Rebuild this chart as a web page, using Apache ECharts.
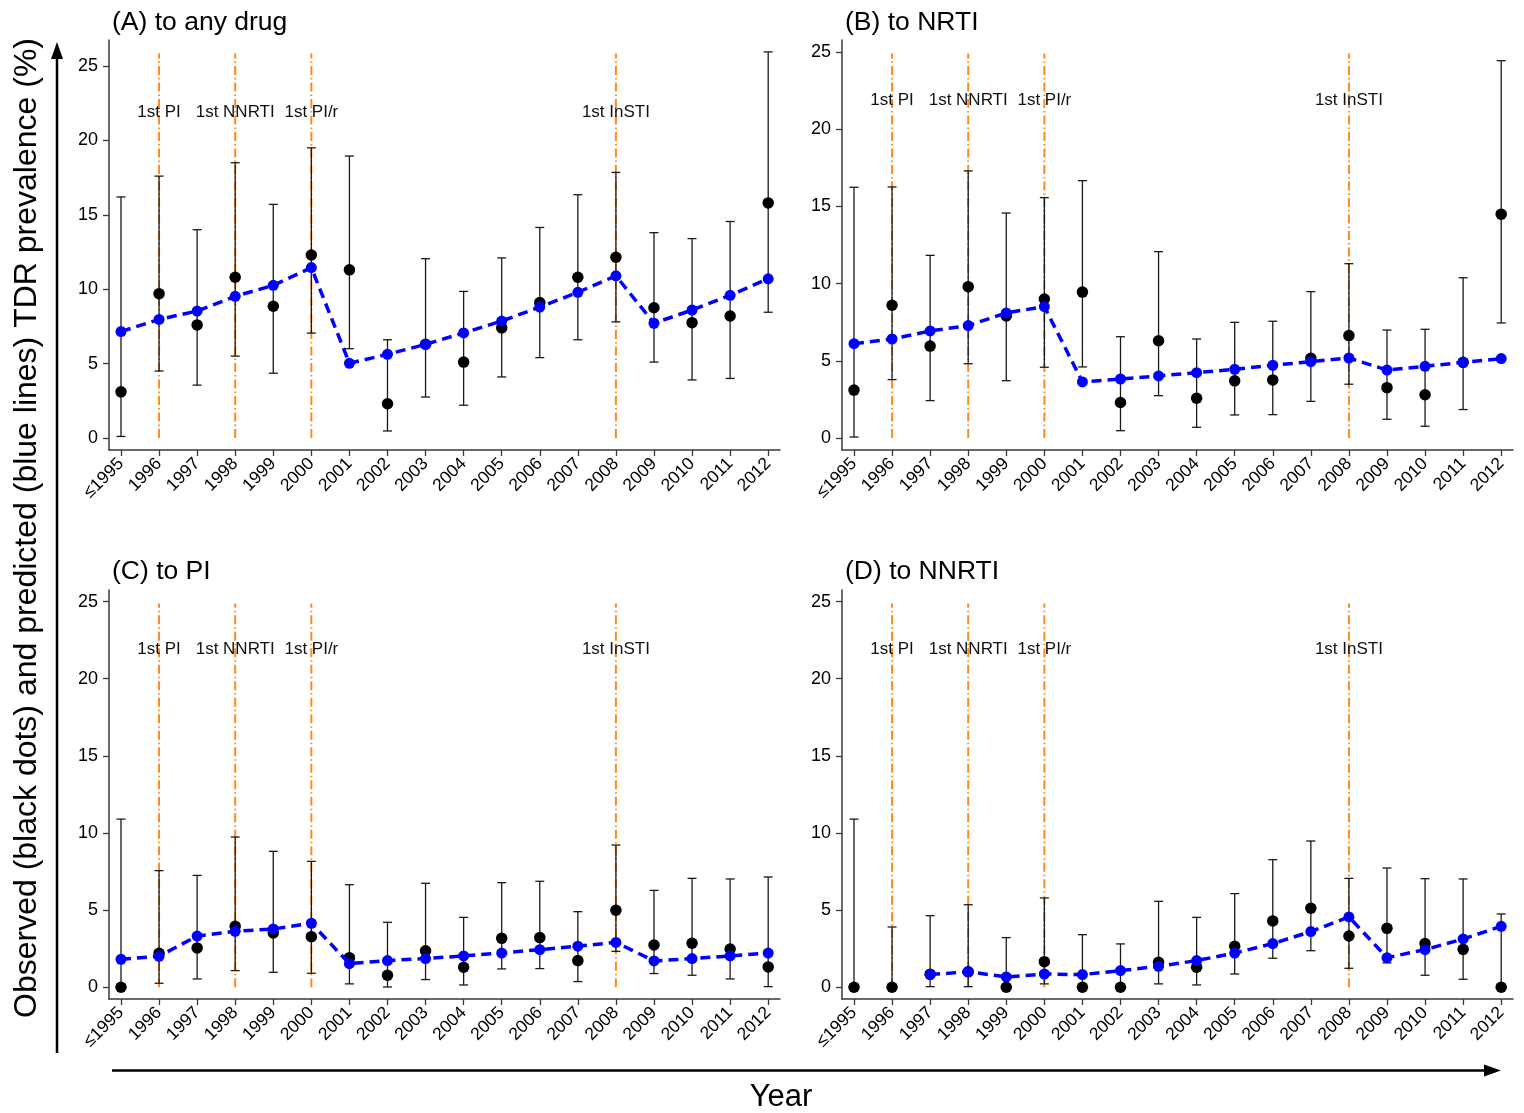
<!DOCTYPE html>
<html>
<head>
<meta charset="utf-8">
<script src="https://cdn.jsdelivr.net/npm/echarts@6/dist/echarts.min.js"></script>
<style>
html,body{margin:0;padding:0;background:#fff;}
#chart{width:1524px;height:1113px;}
</style>
</head>
<body>
<div id="chart"></div>
<script>
// ---------- data ----------
var years = ['≤1995','1996','1997','1998','1999','2000','2001','2002','2003','2004','2005','2006','2007','2008','2009','2010','2011','2012'];
var yTicks = [0, 5, 10, 15, 20, 25];

var markerIdx = [1, 3, 5, 13];
var markerNames = ['1st PI', '1st NNRTI', '1st PI/r', '1st InSTI'];

var panelTitles = ['(A) to any drug', '(B) to NRTI', '(C) to PI', '(D) to NNRTI'];

var anyObs  = [3.1, 9.7, 7.6, 10.8, 8.85, 12.3, 11.3, 2.3, 6.3, 5.1, 7.4, 9.1, 10.8, 12.15, 8.75, 7.75, 8.2, 15.8];
var anyLow  = [0.1, 4.5, 3.55, 5.5, 4.35, 7.05, 6.0, 0.47, 2.75, 2.2, 4.1, 5.4, 6.6, 7.8, 5.1, 3.9, 4.0, 8.45];
var anyHigh = [16.2, 17.6, 14.0, 18.5, 15.7, 19.5, 18.95, 6.6, 12.05, 9.85, 12.1, 14.15, 16.35, 17.85, 13.8, 13.4, 14.55, 25.95];
var anyPred = [7.15, 7.97, 8.53, 9.52, 10.26, 11.45, 5.02, 5.62, 6.29, 7.06, 7.86, 8.8, 9.79, 10.9, 7.71, 8.6, 9.59, 10.7];

var nrtiObs  = [3.1, 8.6, 5.95, 9.8, 7.9, 9.0, 9.45, 2.3, 6.3, 2.57, 3.7, 3.76, 5.16, 6.63, 3.26, 2.8, 4.9, 14.5];
var nrtiLow  = [0.06, 3.78, 2.42, 4.81, 3.71, 4.58, 4.6, 0.47, 2.74, 0.69, 1.49, 1.51, 2.37, 3.48, 1.21, 0.76, 1.84, 7.45];
var nrtiHigh = [16.24, 16.26, 11.83, 17.3, 14.57, 15.57, 16.67, 6.56, 12.07, 6.41, 7.49, 7.56, 9.48, 11.29, 6.99, 7.04, 10.38, 24.44];
var nrtiPred = [6.11, 6.41, 6.93, 7.28, 8.1, 8.51, 3.63, 3.82, 4.02, 4.23, 4.45, 4.71, 4.94, 5.18, 4.4, 4.64, 4.9, 5.14];

var piObs  = [0, 2.2, 2.55, 3.95, 3.52, 3.28, 1.92, 0.78, 2.37, 1.3, 3.17, 3.22, 1.73, 4.99, 2.74, 2.85, 2.48, 1.32];
var piLow  = [0, 0.26, 0.54, 1.08, 0.97, 0.91, 0.22, 0.02, 0.5, 0.15, 1.19, 1.21, 0.37, 2.33, 0.89, 0.78, 0.54, 0.04];
var piHigh = [10.9, 7.56, 7.25, 9.74, 8.81, 8.16, 6.65, 4.21, 6.74, 4.53, 6.78, 6.87, 4.9, 9.22, 6.28, 7.06, 7.02, 7.15];
var piPred = [1.81, 2.01, 3.32, 3.63, 3.78, 4.15, 1.53, 1.73, 1.86, 2.03, 2.22, 2.44, 2.66, 2.91, 1.71, 1.86, 2.03, 2.22];

var nnrtiObs  = [0, 0, 0.85, 1.0, 0, 1.66, 0, 0, 1.62, 1.3, 2.66, 4.3, 5.12, 3.32, 3.82, 2.83, 2.46, 0];
var nnrtiLow  = [0, 0, 0.04, 0.04, 0, 0.22, 0, 0, 0.22, 0.15, 0.86, 1.88, 2.37, 1.23, 1.58, 0.78, 0.52, 0];
var nnrtiHigh = [10.9, 3.91, 4.64, 5.35, 3.22, 5.79, 3.41, 2.81, 5.57, 4.53, 6.07, 8.27, 9.48, 7.06, 7.73, 7.04, 7.02, 4.75];
var nnrtiPred = [null, null, 0.82, 1.01, 0.67, 0.86, 0.82, 1.08, 1.36, 1.73, 2.22, 2.83, 3.61, 4.56, 1.92, 2.44, 3.13, 3.95];

var markerLabelValue = 21.9;

// ---------- layout / style ----------
var FONT = '"Liberation Sans", Arial, Helvetica, sans-serif';
var panels = [
  {obs: anyObs,   low: anyLow,   high: anyHigh,   pred: anyPred,   grid: {left: 109, top: 40,  width: 671, height: 410}, ymin: -0.81, ymax: 26.75, titlePos: [112, 9]},
  {obs: nrtiObs,  low: nrtiLow,  high: nrtiHigh,  pred: nrtiPred,  grid: {left: 842, top: 40,  width: 671, height: 410}, ymin: -0.78, ymax: 25.78, titlePos: [845, 9]},
  {obs: piObs,    low: piLow,    high: piHigh,    pred: piPred,    grid: {left: 109, top: 590, width: 671, height: 409}, ymin: -0.76, ymax: 25.75, titlePos: [112, 558]},
  {obs: nnrtiObs, low: nnrtiLow, high: nnrtiHigh, pred: nnrtiPred, grid: {left: 842, top: 590, width: 671, height: 409}, ymin: -0.76, ymax: 25.75, titlePos: [845, 558]}
];

var xTickVals = years.map(function (_, i) { return i; });
var axisColor = '#3a3a3a';

var grids = [], xAxes = [], yAxes = [], series = [], titles = [];

panels.forEach(function (p, k) {
  grids.push({left: p.grid.left, top: p.grid.top, width: p.grid.width, height: p.grid.height, containLabel: false});
  titles.push({
    text: panelTitles[k], left: p.titlePos[0], top: p.titlePos[1], padding: 0,
    textStyle: {fontSize: 26.5, fontWeight: 'normal', color: '#000', fontFamily: FONT}
  });
  xAxes.push({
    type: 'value', gridIndex: k, min: -0.315, max: 17.31,
    splitLine: {show: false},
    axisLine: {show: true, onZero: false, lineStyle: {color: axisColor, width: 1.5}},
    axisTick: {show: true, customValues: xTickVals, length: 6, lineStyle: {color: axisColor, width: 1.3}},
    axisLabel: {
      show: true, customValues: xTickVals, rotate: 45, margin: 11,
      fontSize: 17.5, color: '#000', fontFamily: FONT,
      formatter: function (v) { return years[Math.round(v)]; }
    }
  });
  yAxes.push({
    type: 'value', gridIndex: k, min: p.ymin, max: p.ymax,
    splitLine: {show: false},
    axisLine: {show: true, onZero: false, lineStyle: {color: axisColor, width: 1.5}},
    axisTick: {show: true, customValues: yTicks, length: 6, lineStyle: {color: axisColor, width: 1.3}},
    axisLabel: {show: true, customValues: yTicks, margin: 11, fontSize: 18, color: '#000', fontFamily: FONT}
  });

  // vertical event lines + labels
  series.push({
    type: 'custom', xAxisIndex: k, yAxisIndex: k, z: 1, silent: true,
    data: markerIdx.map(function (m, j) { return [m, 0, j]; }),
    encode: {x: 0, y: 1},
    renderItem: function (params, api) {
      var x = api.value(0), j = api.value(2);
      var p0 = api.coord([x, 0]);
      var pl = api.coord([x, markerLabelValue]);
      var topY = params.coordSys.y + 13.5;
      return {
        type: 'group',
        children: [
          {type: 'line', shape: {x1: p0[0], y1: p0[1], x2: p0[0], y2: topY},
           style: {stroke: '#FF8A1C', lineWidth: 2, lineDash: [9, 3, 1.5, 3]}},
          {type: 'text', x: pl[0], y: pl[1],
           style: {text: markerNames[j], align: 'center', verticalAlign: 'middle',
                   font: '17px ' + FONT, fill: '#111'}}
        ]
      };
    }
  });

  // error bars
  series.push({
    type: 'custom', xAxisIndex: k, yAxisIndex: k, z: 2, silent: true,
    data: p.low.map(function (lo, i) { return [i, lo, p.high[i]]; }),
    encode: {x: 0, y: [1, 2]},
    renderItem: function (params, api) {
      var x = api.value(0);
      var a = api.coord([x, api.value(2)]);
      var b = api.coord([x, api.value(1)]);
      var w = 4.5;
      var st = {stroke: '#1a1a1a', lineWidth: 1.3};
      return {
        type: 'group',
        children: [
          {type: 'line', shape: {x1: a[0], y1: a[1], x2: b[0], y2: b[1]}, style: st},
          {type: 'line', shape: {x1: a[0] - w, y1: a[1], x2: a[0] + w, y2: a[1]}, style: st},
          {type: 'line', shape: {x1: b[0] - w, y1: b[1], x2: b[0] + w, y2: b[1]}, style: st}
        ]
      };
    }
  });

  // observed black dots
  series.push({
    type: 'scatter', xAxisIndex: k, yAxisIndex: k, z: 3, silent: true,
    symbol: 'circle', symbolSize: 11.5,
    itemStyle: {color: '#000', opacity: 1},
    data: p.obs.map(function (v, i) { return [i, v]; })
  });

  // predicted blue dashed line
  var predData = [];
  p.pred.forEach(function (v, i) { if (v !== null) predData.push([i, v]); });
  series.push({
    type: 'line', xAxisIndex: k, yAxisIndex: k, z: 4, silent: true,
    symbol: 'circle', symbolSize: 11, showSymbol: true,
    itemStyle: {color: '#0000FF', opacity: 1},
    lineStyle: {color: '#0000FF', width: 3.5, type: [10, 6]},
    data: predData
  });
});

var chart = echarts.init(document.getElementById('chart'), null, {renderer: 'canvas'});
chart.setOption({
  backgroundColor: '#ffffff',
  animation: false,
  title: titles,
  grid: grids,
  xAxis: xAxes,
  yAxis: yAxes,
  series: series,
  graphic: [
    {type: 'line', shape: {x1: 57, y1: 1053, x2: 57, y2: 55}, style: {stroke: '#000', lineWidth: 2.5}},
    {type: 'polygon', shape: {points: [[57, 42], [51, 59], [63, 59]]}, style: {fill: '#000'}},
    {type: 'line', shape: {x1: 112, y1: 1070.5, x2: 1488, y2: 1070.5}, style: {stroke: '#000', lineWidth: 2.5}},
    {type: 'polygon', shape: {points: [[1501, 1070.5], [1484, 1064.5], [1484, 1076.5]]}, style: {fill: '#000'}},
    {type: 'text', x: 27, y: 528, rotation: Math.PI / 2,
     style: {text: 'Observed (black dots) and predicted (blue lines) TDR prevalence (%)',
             align: 'center', verticalAlign: 'middle', font: '32px ' + FONT, fill: '#000'}},
    {type: 'text', x: 781, y: 1097,
     style: {text: 'Year', align: 'center', verticalAlign: 'middle', font: '31px ' + FONT, fill: '#000'}}
  ]
});
</script>
</body>
</html>
